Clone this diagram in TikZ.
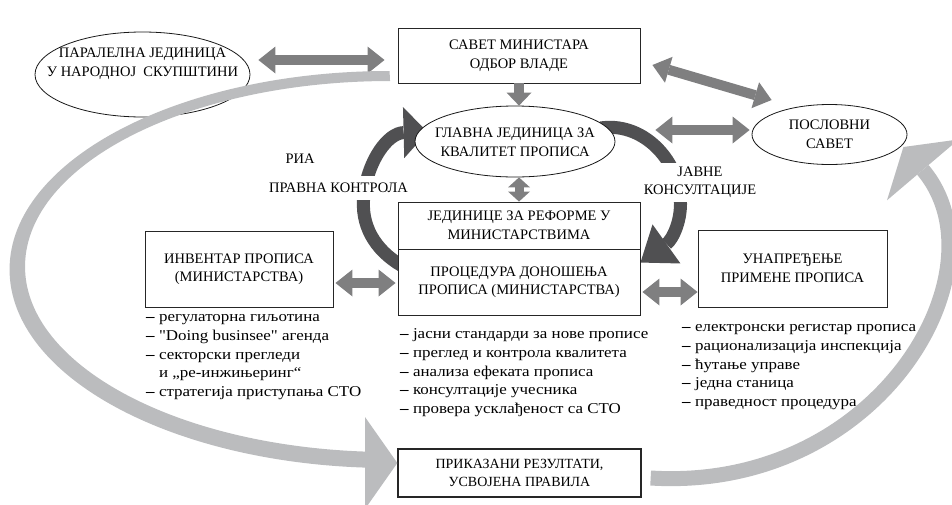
\documentclass[tikz,border=0pt]{standalone}
\usepackage{fontspec}
\setmainfont{Liberation Serif}
\newfontfamily\listfont{Liberation Serif}[FakeStretch=1.13]
\usetikzlibrary{arrows.meta,shapes.geometric,backgrounds,calc}

\definecolor{arcgray}{HTML}{BBBCBE}
\definecolor{linkgray}{HTML}{7F7F80}
\definecolor{flowgray}{HTML}{505052}

\newcommand\itemdash{\textbf{–}\ }
\newcommand\itemgap{\phantom{\itemdash}}

\tikzset{
  basefont/.style={font=\fontsize{14.5}{18.5}\selectfont},
  box/.style={rectangle, draw=black!85, line width=0.9pt, fill=white, inner sep=0pt, align=center, basefont},
  oval/.style={ellipse, draw=black!90, line width=0.8pt, fill=white, inner sep=0pt},
  ovaltext/.style={basefont, align=center, inner sep=0pt},
  tagtext/.style={basefont, inner sep=0pt},
  listtext/.style={font=\listfont\fontsize{15}{18.7}\selectfont, align=left, inner sep=0pt, anchor=north west},
  link/.style={draw=linkgray, line width=10pt,
    arrows={Triangle[width=27pt,length=17pt,line width=0pt]-Triangle[width=27pt,length=17pt,line width=0pt]}},
  shortlink/.style={draw=linkgray, line width=9pt,
    arrows={Triangle[width=22pt,length=10pt,line width=0pt]-Triangle[width=22pt,length=10pt,line width=0pt]}},
  drop/.style={draw=linkgray, line width=10pt,
    arrows={-Triangle[width=25pt,length=13pt,line width=0pt]}},
  flow/.style={draw=flowgray, line width=13pt},
  bigarc/.style={arcgray}
}

\begin{document}
\begin{tikzpicture}[x=1pt,y=-1pt]
\useasboundingbox (0,0) rectangle (952,504);

% ---- oval units ----
\node[oval, minimum width=215pt, minimum height=85pt] (par) at (142.5,74.5) {};
\node[ovaltext] (partxt) at (142.5,64) {ПАРАЛЕЛНА ЈЕДИНИЦА\\У НАРОДНОЈ\ \ СКУПШТИНИ};
\node[oval, minimum width=200pt, minimum height=71pt] (glv) at (515,141.5) {};
\node[ovaltext] (glvtxt) at (515,142.5) {ГЛАВНА ЈЕДИНИЦА ЗА\\КВАЛИТЕТ ПРОПИСА};
\node[oval, minimum width=155pt, minimum height=60pt] (pos) at (829.5,134.5) {};
\node[ovaltext] (postxt) at (829.5,134.5) {ПОСЛОВНИ\\САВЕТ};

% ---- labels on the flow arrows ----
\node[tagtext] (ria) at (300,159) {РИА};
\node[tagtext, fill=white, inner xsep=2pt, inner ysep=7pt] (pk) at (338.5,188) {ПРАВНА КОНТРОЛА};
\node[tagtext, fill=white, align=center, inner xsep=2pt, inner ysep=4pt] (jk) at (700,182.5) {ЈАВНЕ\\КОНСУЛТАЦИЈЕ};

% ---- boxes ----
\node[box, minimum width=242pt, minimum height=55pt] (sav) at (519,55.5) {САВЕТ МИНИСТАРА\\ОДБОР ВЛАДЕ};
\node[box, minimum width=242pt, minimum height=47pt] (jed) at (519,225.5) {ЈЕДИНИЦЕ ЗА РЕФОРМЕ У\\МИНИСТАРСТВИМА};
\node[box, minimum width=242pt, minimum height=66pt] (proc) at (519,282) {ПРОЦЕДУРА ДОНОШЕЊА\\ПРОПИСА (МИНИСТАРСТВА)};
\node[box, minimum width=188pt, minimum height=76pt] (inv) at (239,269) {ИНВЕНТАР ПРОПИСА\\(МИНИСТАРСТВА)};
\node[box, minimum width=189pt, minimum height=77pt] (unap) at (792.5,268.5) {УНАПРЕЂЕЊЕ\\ПРИМЕНЕ ПРОПИСА};
\node[box, line width=1.3pt, minimum width=243pt, minimum height=48pt, font=\fontsize{14}{18.5}\selectfont] (res) at (519.5,473) {ПРИКАЗАНИ РЕЗУЛТАТИ,\\УСВОЈЕНА ПРАВИЛА};

% ---- item lists ----
\node[listtext] (invlist) at (146,308.4) {\strut\itemdash регулаторна гиљотина\\\itemdash "Doing businsee" агенда\\\itemdash секторски прегледи\\\itemgap и „ре-инжињеринг“\\\itemdash стратегија приступања СТО};
\node[listtext] (proclist) at (400,325.4) {\strut\itemdash јасни стандарди за нове прописе\\\itemdash преглед и контрола квалитета\\\itemdash анализа ефеката прописа\\\itemdash консултације учесника\\\itemdash провера усклађеност са СТО};
\node[listtext] (unaplist) at (682,318.4) {\strut\itemdash електронски регистар прописа\\\itemdash рационализација инспекција\\\itemdash ћутање управе\\\itemdash једна станица\\\itemdash праведност процедура};

% ---- dark flow arrows, under the units ----
\begin{scope}[on background layer]
  \draw[flow, arrows={-Triangle[width=51pt,length=24pt,line width=0pt]}]
    ($(proc.north west)+(4,17)$) .. controls (375,250) and (360,225) .. (364,195)
    .. controls (368,160) and (388,133) .. ($(glv.west)+(13,-9.5)$);
  \draw[flow, arrows={-Triangle[width=48pt,length=32pt,line width=0pt]}]
    ($(glv.east)+(-15,-13.5)$) .. controls (640,122) and (675,155) .. (680,195)
    .. controls (683,220) and (672,240) .. ($(proc.north east)+(0,14)$);
\end{scope}

% ---- grey links ----
\draw[link] ($(par.east)+(8,-14.5)$) -- ($(sav.west)+(-13,4.5)$);
\draw[link] ($(sav.east)+(12,9.5)$) -- ($(pos.west)+(20,-34.5)$);
\draw[link] ($(glv.east)+(40,-11.5)$) -- ($(pos.west)+(-2,-4.5)$);
\draw[link] ($(inv.east)+(2,14)$) -- ($(proc.west)+(-2,1)$);
\draw[link] ($(proc.east)+(2,10)$) -- ($(unap.west)+(0,23.5)$);
\draw[drop] (sav.south) -- (sav.south |- glv.north);
\draw[shortlink] (jed.north |- glv.south) -- (jed.north);

% ---- large cycle arcs ----
\fill[bigarc] ($(sav.west)+(-8,15.5)$) arc[start angle=270, end angle=92, x radius=380, y radius=198.5]
  -- (377.3,451.9) arc[start angle=92, end angle=270, x radius=365, y radius=185.5] -- cycle;
\fill[bigarc] (365,417) -- ($(res.west)+(0,-10)$) -- (365,509) -- cycle;
\draw[bigarc, draw=arcgray, line width=15pt, arrows={-Triangle[width=94pt,length=30pt,line width=0pt]}]
  ($(res.east)+(9,5)$) .. controls (880,492) and (1007,269) .. ($(pos.east)+(-4,12.5)$);
\end{tikzpicture}
\end{document}
